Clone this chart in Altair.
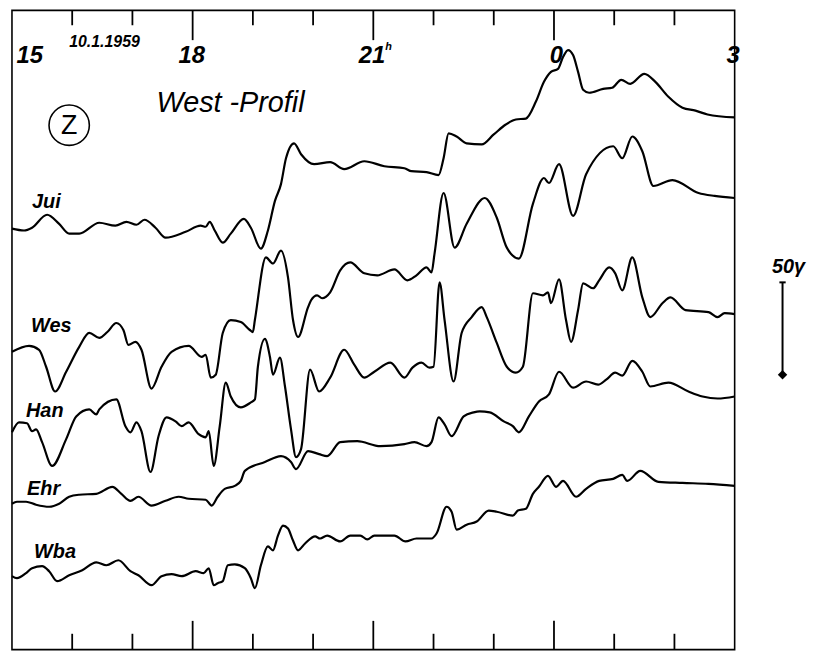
import altair as alt
import pandas as pd

# time: minutes after 15h (10.1.1959); Z: gamma (scale 50 gamma bar)
JUI = [[0,228],[12,227],[20,228.5],[35,235.5],[47,230.6],[57,225.3],[67,225.3],[87,231.2],[103,229.6],[114,231.7],[124,230.1],[132,232.8],[143,228.5],[153,223.1],[173,226.3],[188,229.6],[193,229],[197,231.7],[202,227],[210,220.4],[218,225.3],[231,233.3],[238,228.5],[248,217.2],[255,227],[262,243],[268,252.1],[273,266.1],[281,274.2],[288,268.3],[301,262.9],[317,264],[331,260.2],[351,264.5],[371,261.8],[391,260.7],[398,259.1],[413,258.6],[425,257],[430,266.1],[435,279.6],[443,277.9],[453,274.2],[468,273.6],[480,279],[492,284.4],[502,287.1],[512,287.6],[522,296.8],[530,307.5],[537,312.9],[544,314.5],[549,320.9],[554,324.7],[559,322],[564,312.9],[569,303.2],[575,301.6],[589,303.7],[598,304.3],[607,308.6],[616,306.4],[630,311.8],[641,307.5],[654,299.4],[668,293.5],[681,291.9],[693,289.8],[720,288.2]]

WES = [[0,161.3],[17,164.5],[27,162.4],[34,153.2],[43,139.8],[54,150.5],[67,164],[77,171.5],[87,168.8],[95,172],[104,176.9],[111,173.1],[116,165],[123,166.7],[129,162.4],[139,141.4],[149,153.2],[159,161.3],[176,164.5],[189,158.6],[193,159.7],[198,147.3],[203,148.9],[210,171.5],[218,178.5],[228,177.4],[237,173.1],[240,172],[242,178.5],[253,212.4],[260,209.1],[268,216.1],[275,201.6],[280,178.5],[285,169.3],[295,185.5],[298,189.2],[304,191.9],[309,190.3],[317,193.5],[327,205.4],[337,209.7],[351,203.8],[364,202.7],[381,205.9],[394,200],[403,202.7],[413,207],[418,204.3],[421,214.5],[430,247.3],[441,217.7],[453,230.6],[471,244.6],[483,233.9],[493,217.7],[505,211.8],[519,241.4],[530,255.4],[535,252.7],[545,262.9],[559,234.9],[572,257.5],[599,272.6],[608,266.1],[618,277.9],[628,269.9],[639,251.1],[658,254.3],[684,247.3],[700,245.7],[720,244.6]]

HAN = [[0,117.7],[7,123.1],[15,122.6],[20,118.3],[24,119.3],[30,112.4],[40,99.5],[54,114],[64,126.3],[77,130.1],[84,127.4],[87,130.1],[104,135.5],[113,121],[118,117.7],[124,123.1],[129,118.3],[138,96.2],[146,115.6],[154,125.8],[163,123.6],[169,121],[176,123.1],[186,116.7],[193,115],[196,118.3],[201,99.5],[207,121],[213,144.6],[218,137.1],[228,131.2],[238,133.9],[242,135.5],[245,153.2],[252,168.3],[257,158.6],[260,148.9],[267,158.1],[272,142.5],[278,119.3],[283,104.3],[288,108.6],[297,151.6],[306,139.8],[317,147.3],[331,162.4],[341,154.3],[351,147.3],[361,150.5],[377,155.4],[391,147.3],[399,152.7],[408,155.4],[416,152.7],[420,153.2],[426,198.9],[431,178.5],[440,145.2],[448,171.5],[458,180.1],[468,185.5],[473,180.1],[483,166.1],[493,153.2],[502,150],[509,153.2],[519,193],[529,191.9],[534,193.5],[537,187.6],[545,200.5],[552,178.5],[557,166.7],[564,183.9],[569,198.4],[579,195.7],[585,200],[595,207],[601,203.8],[608,194.6],[618,212.4],[628,190.8],[636,180.1],[648,187.6],[656,190.8],[671,183.9],[694,182.8],[703,180.1],[710,182.2],[720,181.7]]

EHR = [[0,79],[5,80.1],[14,80.1],[24,78.5],[37,77.4],[47,79],[57,82.8],[67,83.9],[84,84.4],[100,88.2],[109,84.4],[118,80.6],[126,82.8],[139,78],[153,80.6],[166,82.8],[176,81.7],[193,81.2],[199,78],[205,82.8],[212,87.1],[222,88.7],[228,91.4],[232,96.8],[252,101.6],[268,104.8],[278,101.6],[283,97.8],[295,107.5],[306,105.9],[314,104.8],[327,112.4],[344,112.9],[367,110.2],[391,111.3],[401,112.4],[413,110.2],[418,112.4],[425,125.8],[431,122],[438,115.6],[450,126.3],[460,128.5],[466,129],[476,128.5],[490,123.6],[499,121],[505,117.7],[515,126.3],[525,134.4],[535,138.2],[545,150.5],[559,141.9],[572,145.2],[584,143.5],[592,146.2],[601,150],[608,148.4],[618,156.4],[628,150.5],[636,142.5],[654,144.6],[674,139.8],[688,137.1],[703,136],[720,137.1]]

WBA = [[0,39.8],[5,38.7],[14,41.4],[20,44.1],[30,45.2],[37,42.5],[45,37.1],[57,40.3],[70,43],[84,47.3],[94,45.7],[106,48.4],[118,42.5],[126,40.3],[139,34.9],[149,39.8],[159,40.9],[169,39.8],[183,42.5],[191,41.4],[196,44.1],[201,34.9],[205,36],[210,37.1],[215,45.7],[222,46.2],[232,44.1],[238,38.7],[242,33.3],[248,45.7],[255,55.9],[260,53.8],[265,61.8],[270,67.2],[275,65.6],[280,59.1],[285,53.8],[292,57.5],[302,61.3],[307,60.2],[314,61.8],[327,58.6],[337,61.8],[347,61.8],[354,59.7],[361,61.8],[381,61.8],[392,58.6],[403,60.2],[418,60.2],[423,62.9],[433,77.4],[438,74.7],[443,65],[453,67.7],[463,69.4],[475,75.3],[483,74.7],[499,72.6],[504,75.3],[512,76.3],[519,84.4],[525,88.2],[534,94.1],[542,88.2],[549,91.4],[562,82.8],[572,87.1],[585,91.4],[599,92.5],[608,94.6],[613,91.4],[626,96.8],[644,90.9],[668,90.3],[694,89.8],[720,88.7]]

STATIONS = ["Jui", "Wes", "Han", "Ehr", "Wba"]
LABEL_T = [20, 19, 14, 15, 22]
LABEL_Z = [239.2, 172, 125.8, 83.9, 49.5]

SHORT_TICKS = [60, 120, 240, 300, 420, 480, 600, 660]
LONG_TICKS = [180, 360, 540]

HOUR_LABELS = ["15", "18", "21", "0", "3"]
HOUR_T = [4.5, 179, 372, 549, 725]
HOUR_ALIGN = ["left", "center", "right", "right", "right"]
HOUR_Z = 317.7

DATE_TEXT = "10.1.1959"
DATE_T, DATE_Z = 57, 326.3
TITLE_TEXT = "West -Profil"
TITLE_T, TITLE_Z = 144, 290.9
COMP_T, COMP_Z = 57, 284
SCALE_T, SCALE_LO, SCALE_HI = 767.7, 148.9, 198.9
SCALE_LABEL = "50γ"

rows = []
for name, pts in zip(STATIONS, [JUI, WES, HAN, EHR, WBA]):
    for t, z in pts:
        rows.append({"station": name, "t": t, "z": z})
df = pd.DataFrame(rows)

xs = alt.Scale(domain=[0, 720], nice=False, zero=False)
ys = alt.Scale(domain=[0, 346.2], nice=False, zero=False)
X = alt.X("t:Q", scale=xs, axis=None)
Y = alt.Y("z:Q", scale=ys, axis=None)

FONT = "Liberation Sans, Arial, sans-serif"
W, H = 728, 644

lines = alt.Chart(df).mark_line(color="black", strokeWidth=2.2, interpolate="monotone").encode(
    x=X, y=Y, detail="station:N")

def rules(ticks, y0, y1, w):
    return alt.Chart(pd.DataFrame({"t": ticks})).mark_rule(color="black", strokeWidth=w).encode(
        x=X, y=alt.value(y0), y2=alt.value(y1))

ticks = (rules(SHORT_TICKS, 0, 15, 1.8) + rules(LONG_TICKS, 0, 30, 1.8)
         + rules(SHORT_TICKS, H - 16, H, 1.8) + rules(LONG_TICKS, H - 29, H, 1.8))

hour_df = pd.DataFrame({"t": HOUR_T, "z": [HOUR_Z] * len(HOUR_T), "label": HOUR_LABELS, "align": HOUR_ALIGN})
hour_layers = []
for al in ["left", "center", "right"]:
    sub = hour_df[hour_df["align"] == al]
    hour_layers.append(alt.Chart(sub).mark_text(align=al, baseline="alphabetic", font=FONT, fontSize=24,
                                               fontWeight="bold", fontStyle="italic").encode(x=X, y=Y, text="label:N"))
hsup = alt.Chart(pd.DataFrame({"t": [372], "z": [325], "label": ["h"]})).mark_text(
    align="left", baseline="alphabetic", font=FONT, fontSize=11, fontWeight="bold", fontStyle="italic").encode(
    x=X, y=Y, text="label:N")

date = alt.Chart(pd.DataFrame({"t": [DATE_T], "z": [DATE_Z], "label": [DATE_TEXT]})).mark_text(
    align="left", baseline="alphabetic", font=FONT, fontSize=16, fontWeight="bold", fontStyle="italic").encode(
    x=X, y=Y, text="label:N")

title = alt.Chart(pd.DataFrame({"t": [TITLE_T], "z": [TITLE_Z], "label": [TITLE_TEXT]})).mark_text(
    align="left", baseline="alphabetic", font=FONT, fontSize=29,
    fontStyle="italic").encode(x=X, y=Y, text="label:N")

comp_df = pd.DataFrame({"t": [COMP_T], "z": [COMP_Z], "label": ["Z"]})
circ = alt.Chart(comp_df).mark_point(shape="circle", size=1650, filled=False, color="black", strokeWidth=1.6,
                                     opacity=1).encode(x=X, y=Y)
ztext = alt.Chart(comp_df).mark_text(align="center", baseline="middle", font=FONT, fontSize=27, dy=1).encode(
    x=X, y=Y, text="label:N")

st_df = pd.DataFrame({"t": LABEL_T, "z": LABEL_Z, "label": STATIONS})
st_labels = alt.Chart(st_df).mark_text(align="left", baseline="alphabetic", font=FONT, fontSize=20,
                                       fontWeight="bold", fontStyle="italic").encode(x=X, y=Y, text="label:N")

bar_df = pd.DataFrame({"t": [SCALE_T], "z": [SCALE_LO], "z2": [SCALE_HI]})
sbar = alt.Chart(bar_df).mark_rule(color="black", strokeWidth=2).encode(x=X, y=Y, y2="z2:Q")
scap = alt.Chart(pd.DataFrame({"t": [SCALE_T], "z": [SCALE_HI]})).mark_point(
    shape="M-1,0L1,0", size=40, color="black", strokeWidth=2, opacity=1).encode(x=X, y=Y)
sfoot = alt.Chart(pd.DataFrame({"t": [SCALE_T], "z": [SCALE_LO]})).mark_point(
    shape="diamond", size=90, filled=True, color="black", opacity=1).encode(x=X, y=Y)
slabel = alt.Chart(pd.DataFrame({"t": [SCALE_T + 6], "z": [SCALE_HI + 5], "label": [SCALE_LABEL]})).mark_text(
    align="center", baseline="alphabetic", font=FONT, fontSize=20, fontWeight="bold", fontStyle="italic").encode(
    x=X, y=Y, text="label:N")

chart = alt.layer(lines, ticks, *hour_layers, hsup, date, title, circ, ztext, st_labels,
                  sbar, scap, sfoot, slabel).properties(
    width=W, height=H,
    padding={"left": 4, "top": 0, "right": 90, "bottom": 2},
    autosize=alt.AutoSizeParams(type="none"),
).configure(background="white").configure_view(stroke="black", strokeWidth=1.6)

chart.save("out.html", embed_options={"renderer": "svg", "actions": False})
